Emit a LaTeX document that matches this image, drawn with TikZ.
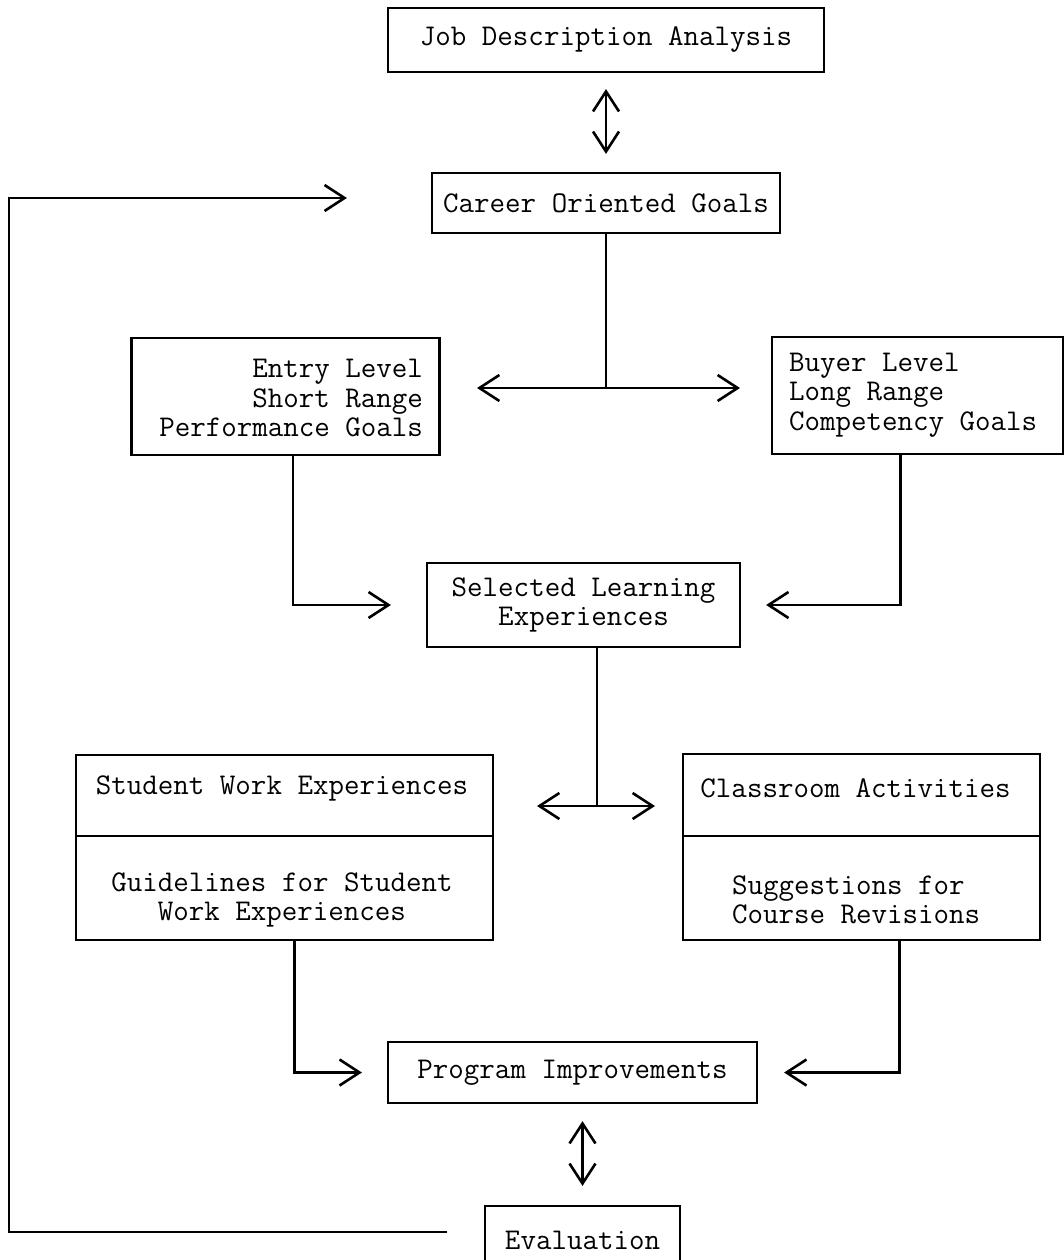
\documentclass[tikz,border=0pt]{standalone}
\usepackage{fontspec}
\usetikzlibrary{arrows.meta,calc}
\newcommand\diagfont{\ttfamily\fontsize{30.1pt}{29.5pt}\selectfont}
\tikzset{
  box/.style={draw, line width=2.2pt, inner sep=0pt, font=\diagfont, align=center},
  frame/.style={draw, line width=2.2pt, inner sep=0pt},
  plain/.style={line width=2.6pt},
  arr/.style={line width=2.6pt, -{Straight Barb[length=20pt,width=26pt]}},
  dbl/.style={line width=2.6pt, {Straight Barb[length=20pt,width=26pt]}-{Straight Barb[length=20pt,width=26pt]}},
  txt/.style={font=\diagfont, inner sep=0pt}
}
\begin{document}
\begin{tikzpicture}[x=1pt,y=-1pt]
\useasboundingbox (0,0) rectangle (1064,1260);
\clip (0,0) rectangle (1064,1260);
\fill[white] (0,0) rectangle (1064,1260);

% boxes
\node[box, minimum width=436pt, minimum height=64pt] (job) at (606,40) {Job Description Analysis};
\node[box, minimum width=348pt, minimum height=60pt] (career) at (606,203) {Career Oriented Goals};

\node[frame, minimum width=308pt, minimum height=117pt] (entry) at (285.5,396.5) {};
\node[txt, align=right, anchor=east] (entryT) at (423,398) {Entry Level\\Short Range\\Performance Goals};

\node[frame, minimum width=291pt, minimum height=117pt] (buyer) at (917.5,395.5) {};
\node[txt, align=left, anchor=west] (buyerT) at (789,395) {Buyer Level\\Long Range\\Competency Goals};

\node[box, minimum width=313pt, minimum height=84pt] (sel) at (583.5,605) {Selected Learning\\Experiences};

\node[frame, minimum width=417pt, minimum height=185pt] (stud) at (284.5,847.5) {};
\draw[line width=2.2pt] (stud.west |- 0,836) -- (stud.east |- 0,836);
\node[txt] (studA) at (282,788) {Student Work Experiences};
\node[txt, align=center] (studB) at (282,900) {Guidelines for Student\\Work Experiences};

\node[frame, minimum width=357pt, minimum height=186pt] (class) at (861.5,847) {};
\draw[line width=2.2pt] (class.west |- 0,836) -- (class.east |- 0,836);
\node[txt] (classA) at (855.5,788) {Classroom Activities};
\node[txt, align=left, anchor=west] (classB) at (732,900) {Suggestions for\\Course Revisions};

\node[box, minimum width=369pt, minimum height=61pt] (prog) at (572.5,1072.5) {Program Improvements};
\node[box, minimum width=195pt, minimum height=68pt] (eval) at (582.5,1240) {Evaluation};

% connectors
\draw[dbl, shorten <=16pt, shorten >=18pt] (job.south) -- (career.north);

\coordinate (s1) at (career.south |- 0,388);
\coordinate (s1L) at (477,388);
\coordinate (s1R) at (740,388);
\draw[plain] (career.south) -- (s1);
\draw[dbl] (s1L) -- (s1R);

\draw[arr, shorten >=35pt] ([xshift=7.5pt]entry.south) |- (sel.west);
\draw[arr, shorten >=25pt] ([xshift=-17pt]buyer.south) |- (sel.east);

\coordinate (s2) at (597,806);
\coordinate (s2L) at (537,806);
\coordinate (s2R) at (655,806);
\draw[plain] (sel.south -| s2) -- (s2);
\draw[dbl] (s2L) -- (s2R);

\draw[arr, shorten >=25pt] ([xshift=10pt]stud.south) |- (prog.west);
\draw[arr, shorten >=26pt] ([xshift=38pt]class.south) |- (prog.east);

\draw[dbl, shorten <=17pt, shorten >=19pt] (eval.north |- prog.south) -- (eval.north);

\coordinate (fbS) at (447,1232);
\coordinate (fbC) at (9,198);
\draw[arr, shorten >=84pt] (fbS) -| (fbC) -- (fbC -| career.west);
\end{tikzpicture}
\end{document}
